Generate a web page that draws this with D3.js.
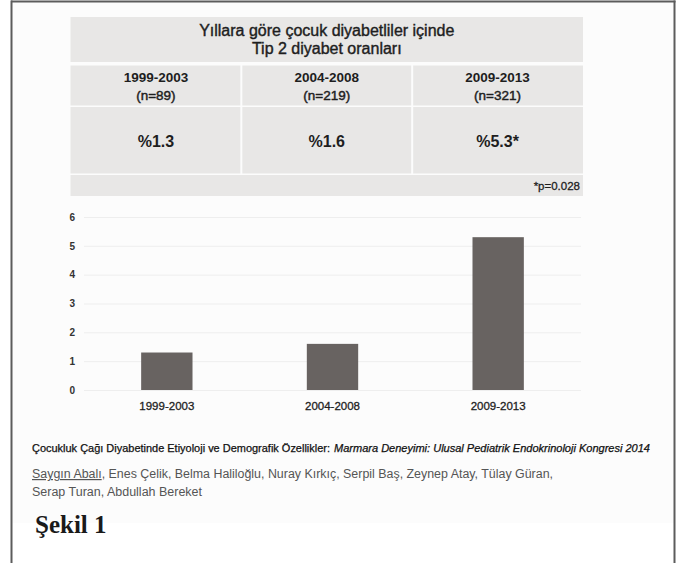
<!DOCTYPE html>
<html>
<head>
<meta charset="utf-8">
<script src="https://cdn.jsdelivr.net/npm/d3@7"></script>
<style>
  body { margin: 0; background: #fff; }
  svg { display: block; font-family: "Liberation Sans", Arial, sans-serif; }
</style>
</head>
<body>
<div id="chart"></div>
<script>
'use strict';

// values
const periods = ['1999-2003', '2004-2008', '2009-2013'];
const sampleSizes = [89, 219, 321];
const rates = [1.3, 1.6, 5.3];
const rateLabels = ['%1.3', '%1.6', '%5.3*'];
const yTicks = [0, 1, 2, 3, 4, 5, 6];
const titleLines = ['Yıllara göre çocuk diyabetliler içinde', 'Tip 2 diyabet oranları'];
const footnote = '*p=0.028';
const citation = 'Çocukluk Çağı Diyabetinde Etiyoloji ve Demografik Özellikler:';
const citationItalic = 'Marmara Deneyimi: Ulusal Pediatrik Endokrinoloji Kongresi 2014';
const presenter = 'Saygın Abalı';
const authorsLine1 = ', Enes Çelik, Belma Haliloğlu, Nuray Kırkıç, Serpil Baş, Zeynep Atay, Tülay Güran,';
const authorsLine2 = 'Serap Turan, Abdullah Bereket';
const figureLabel = 'Şekil 1';

const W = 681, H = 563;

const svg = d3.select('#chart').append('svg')
    .attr('width', W)
    .attr('height', H);

// page frame
svg.append('rect')
    .attr('x', 12).attr('y', 2)
    .attr('width', 662).attr('height', 521)
    .attr('fill', '#fcfcfc');

const frame = svg.append('g').attr('stroke', '#5c5c5c').attr('stroke-width', 2);
frame.append('line').attr('x1', 11).attr('x2', 675.5).attr('y1', 1.5).attr('y2', 1.5);
frame.append('line').attr('x1', 11.5).attr('x2', 11.5).attr('y1', 0.5).attr('y2', H);
frame.append('line').attr('x1', 674.5).attr('x2', 674.5).attr('y1', 0.5).attr('y2', H);

// 1. summary table on top
const tableLeft = 70.5, tableRight = 583;
const colScale = d3.scaleBand()
    .domain(periods)
    .range([tableLeft, tableRight]);

const cellFill = '#e8e7e6';
const ink = '#1e1e1e';
const table = svg.append('g');

table.append('rect')
    .attr('x', tableLeft).attr('y', 17)
    .attr('width', tableRight - tableLeft).attr('height', 45)
    .attr('fill', cellFill);

table.selectAll('.title')
    .data(titleLines)
    .enter().append('text')
    .attr('x', (tableLeft + tableRight) / 2)
    .attr('y', (d, i) => 36 + i * 18)
    .attr('text-anchor', 'middle')
    .attr('font-size', 16)
    .attr('fill', ink)
    .attr('stroke', ink)
    .attr('stroke-width', 0.4)
    .text(d => d);

const cellX = d => colScale(d) + (d === periods[0] ? 0 : 1);
const cellW = d => colScale.bandwidth() - (d === periods[0] ? 1 : 2) + (d === periods[2] ? 1 : 0);

// header cells
table.selectAll('.head')
    .data(periods)
    .enter().append('rect')
    .attr('x', cellX)
    .attr('y', 65.5)
    .attr('width', cellW)
    .attr('height', 40)
    .attr('fill', cellFill);

table.selectAll('.head-text')
    .data(periods)
    .enter().append('text')
    .attr('x', d => colScale(d) + colScale.bandwidth() / 2)
    .attr('y', 82)
    .attr('text-anchor', 'middle')
    .attr('font-size', 13.5)
    .attr('font-weight', 'bold')
    .attr('fill', ink)
    .text(d => d);

table.selectAll('.n-text')
    .data(sampleSizes)
    .enter().append('text')
    .attr('x', (d, i) => colScale(periods[i]) + colScale.bandwidth() / 2)
    .attr('y', 100)
    .attr('text-anchor', 'middle')
    .attr('font-size', 13.5)
    .attr('fill', ink)
    .attr('stroke', ink)
    .attr('stroke-width', 0.45)
    .text(d => '(n=' + d + ')');

// value cells
table.selectAll('.val')
    .data(periods)
    .enter().append('rect')
    .attr('x', cellX)
    .attr('y', 107)
    .attr('width', cellW)
    .attr('height', 66.5)
    .attr('fill', cellFill);

table.selectAll('.val-text')
    .data(rateLabels)
    .enter().append('text')
    .attr('x', (d, i) => colScale(periods[i]) + colScale.bandwidth() / 2)
    .attr('y', 147)
    .attr('text-anchor', 'middle')
    .attr('font-size', 16)
    .attr('font-weight', 'bold')
    .attr('fill', ink)
    .text(d => d);

// footnote row
table.append('rect')
    .attr('x', tableLeft).attr('y', 175)
    .attr('width', tableRight - tableLeft).attr('height', 21)
    .attr('fill', cellFill);

table.append('text')
    .attr('x', tableRight - 3)
    .attr('y', 189.5)
    .attr('text-anchor', 'end')
    .attr('font-size', 11.5)
    .attr('fill', ink)
    .attr('stroke', ink)
    .attr('stroke-width', 0.3)
    .text(footnote);

// 2. bar chart
const plotLeft = 84, plotRight = 581;
const xScale = d3.scaleBand()
    .domain(periods)
    .range([plotLeft, plotRight])
    .paddingInner(0.69)
    .paddingOuter(0.345);

const yScale = d3.scaleLinear()
    .domain([0, 6])
    .range([390, 217]);

const yAxis = svg.append('g')
    .attr('transform', 'translate(' + plotLeft + ',0)')
    .call(d3.axisLeft(yScale)
        .tickValues(yTicks)
        .tickSize(-(plotRight - plotLeft))
        .tickPadding(9)
        .tickFormat(d3.format('d')));
yAxis.select('.domain').remove();
yAxis.selectAll('line').attr('stroke', '#eeeeee');
yAxis.selectAll('text')
    .attr('font-family', '"Liberation Sans", Arial, sans-serif')
    .attr('font-size', 10)
    .attr('font-weight', 'bold')
    .attr('fill', '#333');

svg.selectAll('.bar')
    .data(rates)
    .enter().append('rect')
    .attr('class', 'bar')
    .attr('x', (d, i) => xScale(periods[i]))
    .attr('y', d => yScale(d))
    .attr('width', xScale.bandwidth())
    .attr('height', d => yScale(0) - yScale(d))
    .attr('fill', '#686361');

const xAxis = svg.append('g')
    .attr('transform', 'translate(0,' + yScale(0) + ')')
    .call(d3.axisBottom(xScale).tickSize(0).tickPadding(12));
xAxis.select('.domain').remove();
xAxis.selectAll('text')
    .attr('font-family', '"Liberation Sans", Arial, sans-serif')
    .attr('font-size', 11.5)
    .attr('fill', ink)
    .attr('stroke', ink)
    .attr('stroke-width', 0.3);

// 3. citation and authors
svg.append('text')
    .attr('x', 32).attr('y', 452)
    .attr('font-size', 10.5)
    .attr('fill', '#111')
    .attr('stroke', '#111')
    .attr('stroke-width', 0.25)
    .attr('textLength', 298)
    .attr('lengthAdjust', 'spacingAndGlyphs')
    .text(citation);

svg.append('text')
    .attr('x', 334).attr('y', 452)
    .attr('font-size', 10.5)
    .attr('font-style', 'italic')
    .attr('fill', '#111')
    .attr('stroke', '#111')
    .attr('stroke-width', 0.25)
    .attr('textLength', 316)
    .attr('lengthAdjust', 'spacingAndGlyphs')
    .text(citationItalic);

const authors = svg.append('text')
    .attr('x', 32).attr('y', 478)
    .attr('font-size', 12)
    .attr('fill', '#555')
    .attr('textLength', 521)
    .attr('lengthAdjust', 'spacingAndGlyphs');
authors.append('tspan')
    .attr('text-decoration', 'underline')
    .text(presenter);
authors.append('tspan').text(authorsLine1);

svg.append('text')
    .attr('x', 32).attr('y', 496)
    .attr('font-size', 12)
    .attr('fill', '#555')
    .attr('textLength', 170)
    .attr('lengthAdjust', 'spacingAndGlyphs')
    .text(authorsLine2);

svg.append('text')
    .attr('x', 35).attr('y', 533)
    .attr('font-family', '"Liberation Serif", "Times New Roman", serif')
    .attr('font-size', 25)
    .attr('font-weight', 'bold')
    .attr('fill', '#1a1a1a')
    .text(figureLabel);
</script>
</body>
</html>
